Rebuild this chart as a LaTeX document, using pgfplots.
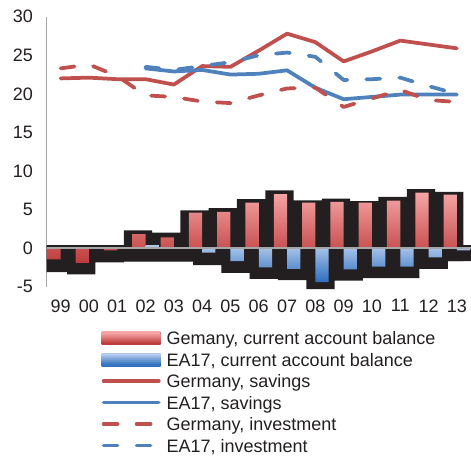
\documentclass[border=0pt]{standalone}
\usepackage{pgfplots}
\usepackage{pgfplotstable}
\pgfplotsset{compat=1.18}
\usepackage{fontspec}
\setmainfont{Liberation Sans}
\definecolor{txt}{HTML}{231F20}
\definecolor{shadowc}{HTML}{231F20}
\definecolor{deL}{HTML}{F6A5A5}
\definecolor{deD}{HTML}{BD3B3B}
\definecolor{eaL}{HTML}{AFC8EB}
\definecolor{eaD}{HTML}{2D6EBE}
\definecolor{deLine}{HTML}{C0504D}
\definecolor{eaLine}{HTML}{4F81BD}
\definecolor{axgray}{HTML}{A6A6A6}

\pgfplotstableread{
x  de     ea     deup  dedn   eaup  eadn   desav  deinv  easav  eainv
0  -1.45  nan    0.4   -3.1   0.4   -1.75  22.0   23.3   nan    nan
1  -1.9   nan    0.4   -3.4   0.4   -1.75  22.1   23.8   nan    nan
2  -0.3   nan    0.4   -1.85  0.4   -1.75  21.9   22.3   nan    nan
3  1.8    0.4    2.3   -1.7   0.85  -1.75  21.9   19.8   23.3   23.5
4  1.4    nan    2.0   -1.7   0.4   -1.75  21.2   19.6   22.9   23.1
5  4.6    -0.6   4.9   -1.7   0.4   -2.2   23.6   19.0   23.1   23.6
6  4.7    -1.7   5.2   -1.7   0.4   -3.2   23.5   18.8   22.5   24.1
7  5.9    -2.5   6.35  -1.7   0.4   -4.0   25.6   19.8   22.6   25.0
8  7.0    -2.7   7.5   -1.7   0.4   -4.15  27.8   20.7   23.05  25.35
9  5.9    -4.4   6.2   -1.7   0.4   -5.3   26.7   20.8   20.8   24.8
10 6.0    -2.75  6.4   -1.7   0.4   -4.2   24.2   18.3   19.3   21.8
11 5.9    -2.4   6.1   -1.7   0.4   -3.9   25.5   19.4   19.6   21.9
12 6.15   -2.4   6.65  -1.7   0.4   -3.9   26.9   20.5   19.9   22.1
13 7.2    -1.2   7.65  -1.7   0.4   -2.7   26.4   19.2   19.9   21.0
14 6.95   -0.3   7.3   -1.7   0.4   -1.7   25.9   18.95  19.9   20.0
}\data

\begin{document}
\begin{tikzpicture}
\begin{axis}[
  name=ax,
  scale only axis, width=424.5bp, height=272.3bp,
  xmin=-0.5, xmax=14.5, ymin=-5.3, ymax=30,
  axis lines=left,
  axis line style={-},
  x axis line style={draw=none},
  y axis line style={draw=axgray, line width=1.5bp, shorten <=2.3bp},
  xtick={0,...,14},
  xticklabels={99,00,01,02,03,04,05,06,07,08,09,10,11,12,13},
  ytick={-5,0,5,10,15,20,25,30},
  major tick length=0pt,
  tick style={draw=none},
  ticklabel style={font=\fontsize{18bp}{21bp}\selectfont, text=txt},
  /pgf/number format/assume math mode=true,
  xticklabel style={yshift=-7bp},
  yticklabel style={xshift=-10bp},
  legend cell align=left,
  legend style={at={(axis description cs:0,0)}, anchor=north west,
    xshift=55.2bp, yshift=-42.5bp, draw=none, fill=none,
    inner sep=0pt, outer sep=0pt, row sep=8.5bp, column sep=6bp,
    font=\fontsize{18bp}{21bp}\selectfont, text=txt,
    nodes={inner sep=0pt, text height=13bp, text depth=0bp}},
]
% shadows
\addplot[ybar, bar width=1, bar shift=-0.27, fill=shadowc, draw=none, forget plot] table[x=x, y=deup] {\data};
\addplot[ybar, bar width=1, bar shift=-0.27, fill=shadowc, draw=none, forget plot] table[x=x, y=dedn] {\data};
\addplot[ybar, bar width=1, bar shift=0.18, fill=shadowc, draw=none, forget plot] table[x=x, y=eaup] {\data};
\addplot[ybar, bar width=1, bar shift=0.18, fill=shadowc, draw=none, forget plot] table[x=x, y=eadn] {\data};
% bars
\addplot[ybar, bar width=0.47, bar shift=-0.235, draw=none, top color=deL, bottom color=deD,
  legend image code/.code={\path[draw=none, fill=none] (0bp,-6.5bp) rectangle (59bp,6.5bp);\fill[top color=deL, bottom color=deD] (0bp,-5bp) rectangle (59bp,5bp);}]
  table[x=x, y=de] {\data};
\addplot[ybar, bar width=0.47, bar shift=0.235, draw=none, top color=eaL, bottom color=eaD,
  legend image code/.code={\path[draw=none, fill=none] (0bp,-6.5bp) rectangle (59bp,6.5bp);\fill[top color=eaL, bottom color=eaD] (0bp,-5bp) rectangle (59bp,5bp);}]
  table[x=x, y=ea] {\data};
% zero line
\addplot[draw=axgray, line width=1.5bp, forget plot] coordinates {(-0.5,0) (14.5,0)};
% lines
\addplot[deLine, line width=3.75bp, line join=round, line cap=round,
  legend image code/.code={\path[draw=none, fill=none] (0bp,-6.5bp) rectangle (59bp,6.5bp);\draw[deLine, line width=3.75bp, line cap=round] (1.9bp,0bp) -- (57.1bp,0bp);}]
  table[x=x, y=desav] {\data};
\addplot[eaLine, line width=3.75bp, line join=round, line cap=round,
  legend image code/.code={\path[draw=none, fill=none] (0bp,-6.5bp) rectangle (59bp,6.5bp);\draw[eaLine, line width=3.75bp, line cap=round] (1.9bp,0bp) -- (57.1bp,0bp);}]
  table[x=x, y=easav] {\data};
\addplot[deLine, line width=3.75bp, line join=round, line cap=round, dash pattern=on 14bp off 19bp,
  legend image code/.code={\path[draw=none, fill=none] (0bp,-6.5bp) rectangle (59bp,6.5bp);\draw[deLine, line width=3.75bp, line cap=round, dash pattern=on 14bp off 19bp] (1.9bp,0bp) -- (48.9bp,0bp);}]
  table[x=x, y=deinv] {\data};
\addplot[eaLine, line width=3.75bp, line join=round, line cap=round, dash pattern=on 14bp off 19bp,
  legend image code/.code={\path[draw=none, fill=none] (0bp,-6.5bp) rectangle (59bp,6.5bp);\draw[eaLine, line width=3.75bp, line cap=round, dash pattern=on 14bp off 19bp] (1.9bp,0bp) -- (48.9bp,0bp);}]
  table[x=x, y=eainv] {\data};
\legend{{Gemany, current account balance}, {EA17, current account balance}, {Germany, savings}, {EA17, savings}, {Germany, investment}, {EA17, investment}}
\end{axis}
\path (ax.south west) ++(-46.5bp,-167bp) rectangle ++(471bp,456bp);
\end{tikzpicture}
\end{document}
